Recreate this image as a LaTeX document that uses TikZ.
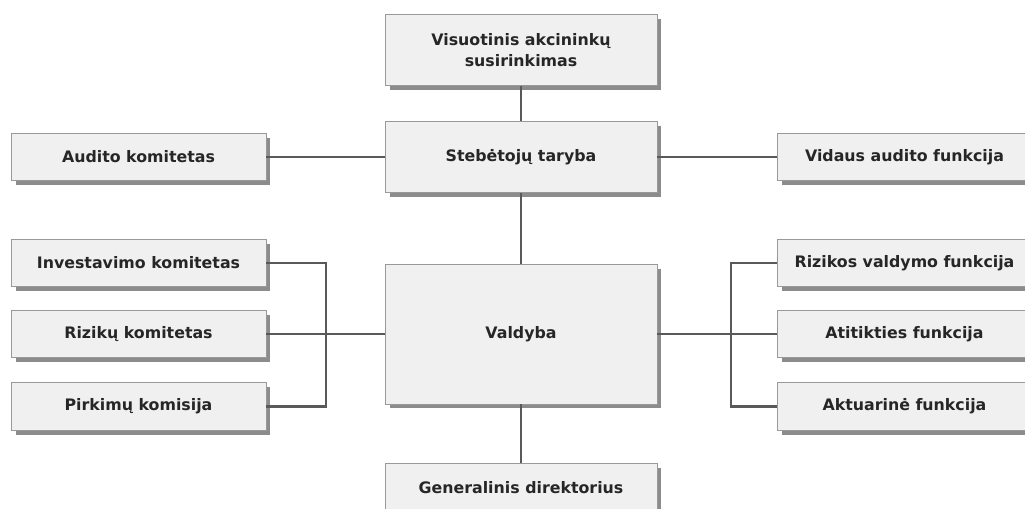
\documentclass[tikz,border=0pt]{standalone}
\usepackage{fontspec}
\setmainfont{DejaVu Sans}
\usetikzlibrary{positioning,shadows}

\tikzset{
  orgbox/.style={draw=black!40, fill=black!6, text=black!85, align=center,
    font=\bfseries\fontsize{9}{12}\selectfont, inner sep=0pt,
    drop shadow={shadow xshift=0.09cm, shadow yshift=-0.09cm, fill=black!45, opacity=1}},
  mainbox/.style={orgbox, minimum width=5.44cm, minimum height=1.43cm},
  sidebox/.style={orgbox, minimum width=5.1cm, minimum height=0.95cm},
  link/.style={draw=black!65, line width=1.6pt}
}

\begin{document}
\begin{tikzpicture}[x=0.02cm, y=-0.02cm]
\useasboundingbox (0,0) rectangle (1025,509);
\clip (0,0) rectangle (1025,509);

% centre column
\node[mainbox] (visuot) at (521,50) {Visuotinis akcininkų\\susirinkimas};
\node[mainbox] (taryba) at (521,157) {Stebėtojų taryba};
\node[mainbox, minimum height=2.8cm] (valdyba) at (521,334) {Valdyba};
\node[mainbox, minimum height=1cm] (gendir) at (521,488) {Generalinis direktorius};

% left side
\node[sidebox] (audito) at (138.5,157) {Audito komitetas};
\node[sidebox] (invest) at (138.5,263) {Investavimo komitetas};
\node[sidebox] (rizkom) at (138.5,334) {Rizikų komitetas};
\node[sidebox] (pirkim) at (138.5,406.5) {Pirkimų komisija};

% right side
\node[sidebox] (vidaus) at (904.5,157) {Vidaus audito funkcija};
\node[sidebox] (rizval) at (904.5,263) {Rizikos valdymo funkcija};
\node[sidebox] (atitik) at (904.5,334) {Atitikties funkcija};
\node[sidebox] (aktuar) at (904.5,406.5) {Aktuarinė funkcija};

\coordinate (lbus) at (326,334);
\coordinate (rbus) at (731,334);

\draw[link] (visuot) -- (taryba);
\draw[link] (taryba) -- (valdyba);
\draw[link] (valdyba) -- (gendir);
\draw[link] (audito) -- (taryba);
\draw[link] (taryba) -- (vidaus);
\draw[link] (invest.east) -| (lbus) |- (pirkim.east);
\draw[link] (rizkom.east) -- (valdyba.west);
\draw[link] (rizval.west) -| (rbus) |- (aktuar.west);
\draw[link] (valdyba.east) -- (atitik.west);
\end{tikzpicture}
\end{document}
